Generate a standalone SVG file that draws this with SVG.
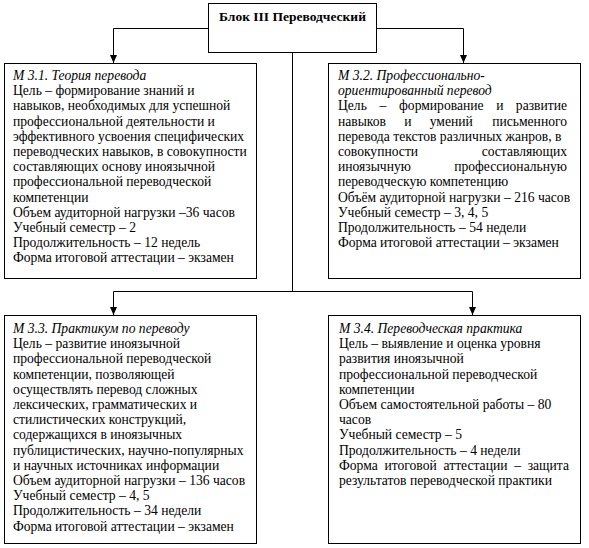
<svg xmlns="http://www.w3.org/2000/svg" width="589" height="548" viewBox="0 0 589 548">
<style>
.box{fill:#fff;stroke:#000;stroke-width:1}
.ln{fill:none;stroke:#000;stroke-width:1}
text{font-family:"Liberation Serif","Times New Roman",serif;font-size:13.6px;fill:#000}
.it{font-style:italic}
.b{font-weight:bold;font-size:13.5px}
.e{text-anchor:end}
</style>
<defs>
<marker id="ah" markerUnits="userSpaceOnUse" markerWidth="8" markerHeight="8" refX="8" refY="4" orient="auto">
<path d="M0,0.5 L8,4 L0,7.5 z" fill="#000"/>
</marker>
</defs>
<rect width="589" height="548" fill="#fff"/>
<g id="connectors">
<path class="ln" d="M208.5,28.5 H113.5 V63" marker-end="url(#ah)"/>
<path class="ln" d="M376.5,28.5 H463.5 V63" marker-end="url(#ah)"/>
<path class="ln" d="M292.5,52.5 V291.5"/>
<path class="ln" d="M113.5,291.5 H472.5"/>
<path class="ln" d="M113.5,291.5 V315" marker-end="url(#ah)"/>
<path class="ln" d="M472.5,291.5 V315" marker-end="url(#ah)"/>
</g>
<g id="title">
<rect class="box" x="208.5" y="3.5" width="168" height="49"/>
<text class="b" x="292.5" y="21" text-anchor="middle">Блок III Переводческий</text>
</g>
<g id="m31">
<rect class="box" x="4.5" y="63.5" width="252" height="215"/>
<text x="13" y="80">
<tspan class="it" x="13">М 3.1. Теория перевода</tspan>
<tspan x="13" dy="15.2">Цель – формирование знаний и</tspan>
<tspan x="13" dy="15.2">навыков, необходимых для успешной</tspan>
<tspan x="13" dy="15.2">профессиональной деятельности и</tspan>
<tspan x="13" dy="15.2">эффективного усвоения специфических</tspan>
<tspan x="13" dy="15.2">переводческих навыков, в совокупности</tspan>
<tspan x="13" dy="15.2">составляющих основу иноязычной</tspan>
<tspan x="13" dy="15.2">профессиональной переводческой</tspan>
<tspan x="13" dy="15.2">компетенции</tspan>
<tspan x="13" dy="15.2">Объем аудиторной нагрузки –36 часов</tspan>
<tspan x="13" dy="15.2">Учебный семестр – 2</tspan>
<tspan x="13" dy="15.2">Продолжительность – 12 недель</tspan>
<tspan x="13" dy="15.2">Форма итоговой аттестации – экзамен</tspan>
</text>
</g>
<g id="m32">
<rect class="box" x="328.5" y="63.5" width="252" height="215"/>
<text class="it" x="338" y="80">М 3.2. Профессионально-</text>
<text class="it" x="338" y="95.2">ориентированный перевод</text>
<text y="110.4"><tspan x="338" style="word-spacing:9.3px">Цель – формирование и</tspan><tspan class="e" x="567">развитие</tspan></text>
<text y="125.6"><tspan x="338" style="word-spacing:14.8px">навыков и умений</tspan><tspan class="e" x="567">письменного</tspan></text>
<text x="338" y="140.8">перевода текстов различных жанров, в</text>
<text y="156"><tspan x="338">совокупности</tspan><tspan class="e" x="567">составляющих</tspan></text>
<text y="171.2"><tspan x="338">иноязычную</tspan><tspan class="e" x="567">профессиональную</tspan></text>
<text x="338" y="186.4">
<tspan x="338">переводческую компетенцию</tspan>
<tspan x="338" dy="15.2">Объём аудиторной нагрузки – 216 часов</tspan>
<tspan x="338" dy="15.2">Учебный семестр – 3, 4, 5</tspan>
<tspan x="338" dy="15.2">Продолжительность – 54 недели</tspan>
<tspan x="338" dy="15.2">Форма итоговой аттестации – экзамен</tspan>
</text>
</g>
<g id="m33">
<rect class="box" x="4.5" y="315.5" width="252" height="228"/>
<text x="13" y="333">
<tspan class="it" x="13">М 3.3. Практикум по переводу</tspan>
<tspan x="13" dy="15.2">Цель – развитие иноязычной</tspan>
<tspan x="13" dy="15.2">профессиональной переводческой</tspan>
<tspan x="13" dy="15.2">компетенции, позволяющей</tspan>
<tspan x="13" dy="15.2">осуществлять перевод сложных</tspan>
<tspan x="13" dy="15.2">лексических, грамматических и</tspan>
<tspan x="13" dy="15.2">стилистических конструкций,</tspan>
<tspan x="13" dy="15.2">содержащихся в иноязычных</tspan>
<tspan x="13" dy="15.2">публицистических, научно-популярных</tspan>
<tspan x="13" dy="15.2">и научных источниках информации</tspan>
<tspan x="13" dy="15.2">Объем аудиторной нагрузки – 136 часов</tspan>
<tspan x="13" dy="15.2">Учебный семестр – 4, 5</tspan>
<tspan x="13" dy="15.2">Продолжительность – 34 недели</tspan>
<tspan x="13" dy="15.2">Форма итоговой аттестации – экзамен</tspan>
</text>
</g>
<g id="m34">
<rect class="box" x="328.5" y="315.5" width="252" height="228"/>
<text x="339" y="333">
<tspan class="it" x="339">М 3.4. Переводческая практика</tspan>
<tspan x="339" dy="15.2">Цель – выявление и оценка уровня</tspan>
<tspan x="339" dy="15.2">развития иноязычной</tspan>
<tspan x="339" dy="15.2">профессиональной переводческой</tspan>
<tspan x="339" dy="15.2">компетенции</tspan>
<tspan x="339" dy="15.2">Объем самостоятельной работы – 80</tspan>
<tspan x="339" dy="15.2">часов</tspan>
<tspan x="339" dy="15.2">Учебный семестр – 5</tspan>
<tspan x="339" dy="15.2">Продолжительность – 4 недели</tspan>
</text>
<text y="469.8"><tspan x="339" style="word-spacing:3.4px">Форма итоговой аттестации –</tspan><tspan class="e" x="569">защита</tspan></text>
<text x="339" y="485">результатов переводческой практики</text>
</g>
</svg>
